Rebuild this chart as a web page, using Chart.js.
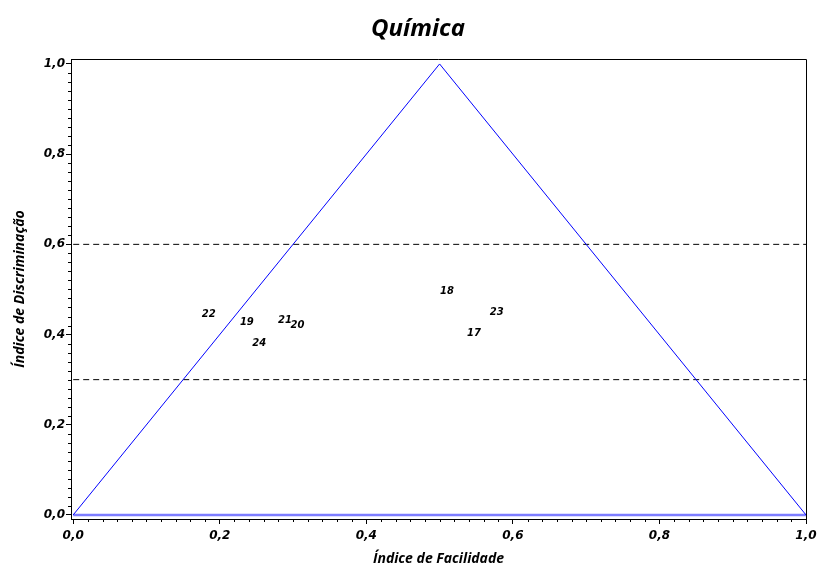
<!DOCTYPE html>
<html>
<head>
<meta charset="utf-8">
<script src="https://cdn.jsdelivr.net/npm/chart.js@4"></script>
<style>
  html, body { margin: 0; padding: 0; background: #ffffff; }
  #wrap { width: 817px; height: 567px; position: relative; }
</style>
</head>
<body>
<div id="wrap"><canvas id="c" width="817" height="567"></canvas></div>
<script>
// Item labels with facility (x) and discrimination (y) indices
const itemLabels = ['22', '19', '21', '20', '24', '18', '23', '17'];
const facility = [0.185, 0.237, 0.289, 0.306, 0.254, 0.510, 0.578, 0.547];
const discrimination = [0.444, 0.427, 0.431, 0.420, 0.381, 0.496, 0.448, 0.403];

// Theoretical limit triangle and reference bands
const triangleX = [0, 0.5, 1];
const triangleY = [0, 1, 0];
const baseX = [0, 1];
const baseY = [0, 0];
const bandLevels = [0.6, 0.3];

// Axis tick values
const xTicks = [0, 0.2, 0.4, 0.6, 0.8, 1.0];
const yTicks = [0, 0.2, 0.4, 0.6, 0.8, 1.0];
const minorStep = 0.02;

const fmt = v => v.toFixed(1).replace('.', ',');
const tickFont = { family: 'DejaVu Sans', size: 12, weight: 'bold', style: 'italic' };
const titleFont = { family: 'Open Sans', size: 14, weight: 'bold', style: 'italic' };

const datasets = [
  {
    label: 'triangle',
    data: triangleX.map((x, i) => ({ x, y: triangleY[i] })),
    borderColor: '#0000ff', borderWidth: 1, pointRadius: 0, showLine: true, fill: false
  },
  {
    label: 'base',
    data: baseX.map((x, i) => ({ x, y: baseY[i] })),
    borderColor: 'rgba(70,70,255,0.7)', borderWidth: 2.5, pointRadius: 0, showLine: true, fill: false
  },
  ...bandLevels.map(level => ({
    label: 'band ' + level,
    data: [{ x: 0, y: level }, { x: 1, y: level }],
    borderColor: '#000000', borderWidth: 1, borderDash: [6, 4], pointRadius: 0, showLine: true, fill: false
  })),
  {
    label: 'items',
    data: facility.map((x, i) => ({ x, y: discrimination[i] })),
    pointRadius: 0, showLine: false
  }
];

// Draws item numbers, the plot frame, minor ticks and the main title
const decorations = {
  id: 'decorations',
  afterDatasetsDraw(chart) {
    const ctx = chart.ctx;
    const xs = chart.scales.x, ys = chart.scales.y;
    ctx.save();
    ctx.fillStyle = '#000';
    ctx.font = 'italic bold 10px "DejaVu Sans"';
    ctx.textAlign = 'center';
    ctx.textBaseline = 'middle';
    itemLabels.forEach((t, i) => {
      ctx.fillText(t, xs.getPixelForValue(facility[i]), ys.getPixelForValue(discrimination[i]));
    });
    ctx.restore();
  },
  afterDraw(chart) {
    const ctx = chart.ctx;
    const xs = chart.scales.x, ys = chart.scales.y;
    const a = chart.chartArea;
    ctx.save();
    ctx.strokeStyle = '#000';
    ctx.lineWidth = 1;
    ctx.beginPath();
    ctx.moveTo(a.left, a.top + 0.5);
    ctx.lineTo(a.right + 0.5, a.top + 0.5);
    ctx.lineTo(a.right + 0.5, a.bottom);
    ctx.stroke();
    // minor ticks
    ctx.beginPath();
    for (let k = 0; k <= 50; k++) {
      const v = k * minorStep;
      if (k % 10 === 0) continue;
      const px = Math.round(xs.getPixelForValue(v)) + 0.5;
      ctx.moveTo(px, a.bottom);
      ctx.lineTo(px, a.bottom + 3);
      const py = Math.round(ys.getPixelForValue(v)) + 0.5;
      ctx.moveTo(a.left, py);
      ctx.lineTo(a.left - 3, py);
    }
    ctx.stroke();
    // title
    ctx.fillStyle = '#000';
    ctx.font = 'italic bold 24px "Open Sans"';
    ctx.textAlign = 'center';
    ctx.textBaseline = 'middle';
    ctx.fillText('Química', 418, 29);
    ctx.restore();
  }
};

new Chart(document.getElementById('c'), {
  type: 'scatter',
  data: { datasets },
  options: {
    responsive: false,
    animation: false,
    layout: { padding: { top: 59, right: 11, left: 0, bottom: 0 } },
    plugins: { legend: { display: false }, tooltip: { enabled: false }, title: { display: false } },
    scales: {
      x: {
        type: 'linear', min: -0.003, max: 1.0,
        afterBuildTicks: axis => { axis.ticks = xTicks.map(v => ({ value: v })); },
        afterFit: axis => { axis.height = 48; axis.paddingLeft = 0; axis.paddingRight = 0; },
        ticks: { callback: v => fmt(v), font: tickFont, color: '#000', padding: 5, maxRotation: 0, autoSkip: false },
        grid: { drawOnChartArea: false, tickLength: 5, color: '#000', tickColor: '#000' },
        border: { display: true, color: '#000', width: 1 },
        title: { display: true, text: 'Índice de Facilidade', font: titleFont, color: '#000', padding: { top: 0, bottom: 0 } }
      },
      y: {
        type: 'linear', min: -0.009, max: 1.011,
        afterBuildTicks: axis => { axis.ticks = yTicks.map(v => ({ value: v })); },
        afterFit: axis => { axis.width = 71; axis.paddingTop = 0; axis.paddingBottom = 0; },
        ticks: { callback: v => fmt(v), font: tickFont, color: '#000', padding: 1 },
        grid: { drawOnChartArea: false, tickLength: 5, color: '#000', tickColor: '#000' },
        border: { display: true, color: '#000', width: 1 },
        title: { display: true, text: 'Índice de Discriminação', font: titleFont, color: '#000', padding: { top: 12, bottom: 0 } }
      }
    }
  },
  plugins: [decorations]
});
</script>
</body>
</html>
